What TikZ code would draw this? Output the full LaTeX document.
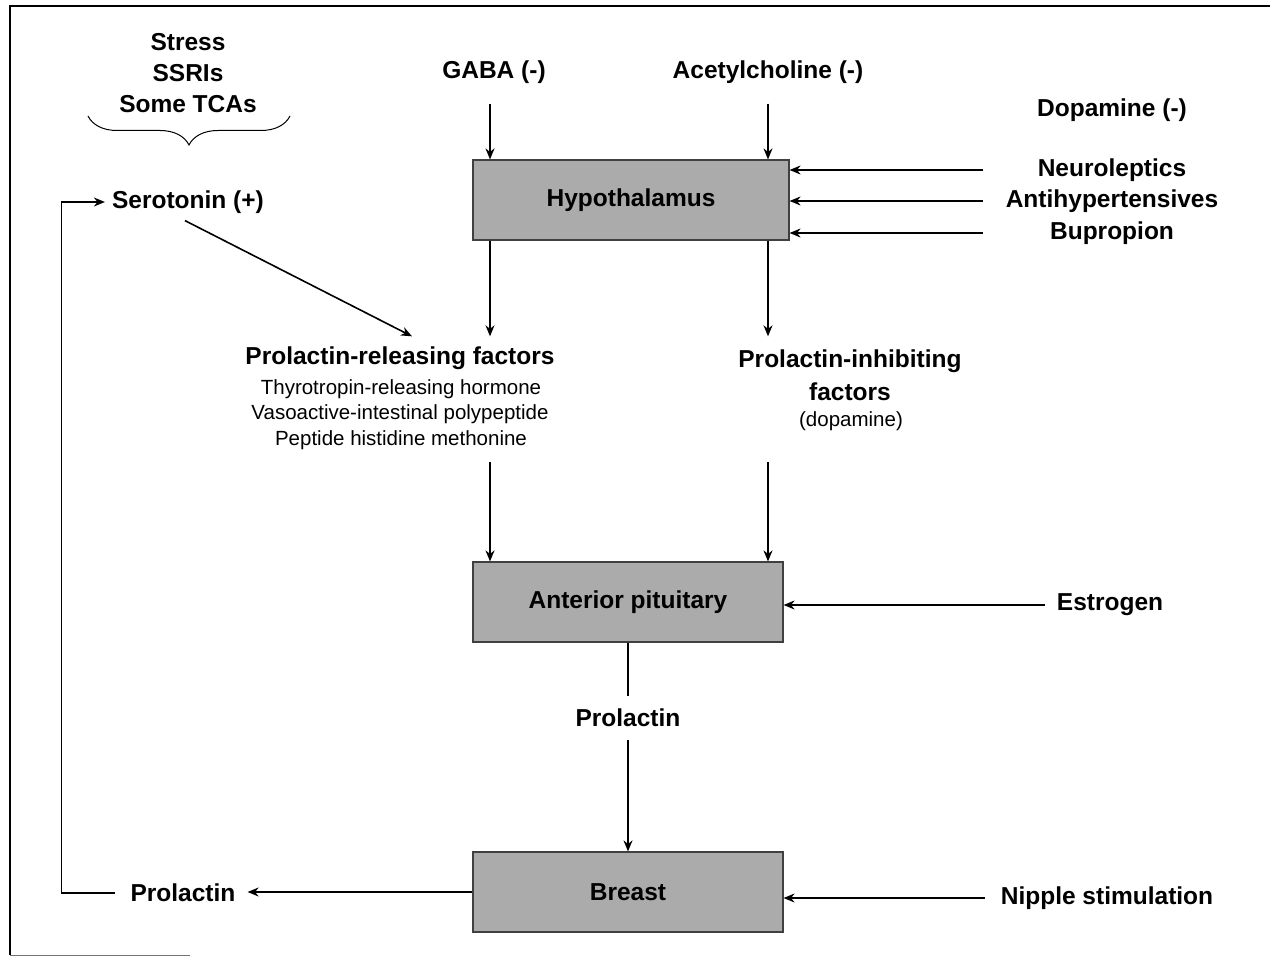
\documentclass[tikz,border=0pt]{standalone}
\usepackage{fontspec}
\setmainfont{Liberation Sans}
\usetikzlibrary{arrows.meta,decorations.pathreplacing,calc}
\begin{document}
\begin{tikzpicture}[x=1pt,y=-1pt,
  lbl/.style={font=\bfseries\fontsize{24.5}{29}\selectfont, inner sep=0pt, align=center},
  sub/.style={font=\fontsize{20.5}{25}\selectfont, inner sep=0pt},
  organ/.style={draw=black!75, line width=1.2pt, fill=black!33, minimum width=316pt,
    minimum height=80pt, inner sep=0pt, font=\bfseries\fontsize{24.5}{29}\selectfont},
  arr/.style={line width=1.6pt, -{Stealth[length=11pt,width=9pt]}},
  ln/.style={line width=1.6pt}]
\useasboundingbox (0,0) rectangle (1270,957);
% frame
\draw[line width=1.6pt] (10,955) -- (10,6) -- (1270,6);
\draw[line width=1pt, black!55] (10,955) -- (190,955);

% boxes
\node[organ] (hypo) at (631,200) {Hypothalamus};
\node[organ, minimum width=310pt] (ap) at (628,602) {Anterior pituitary};
\node[organ, minimum width=310pt] (breast) at (628,892) {Breast};

% labels
\node[lbl] (stress) at (188,42) {Stress};
\node[lbl] (ssri) at (188,73) {SSRIs};
\node[lbl] (tca) at (188,104) {Some TCAs};
\node[lbl] (gaba) at (494,72) {GABA (-)};
\node[lbl] (ach) at (768,72) {Acetylcholine (-)};
\node[lbl] (dopa) at (1112,110) {Dopamine (-)};
\node[lbl] (neuro) at (1112,170) {Neuroleptics};
\node[lbl] (antihyp) at (1112,201) {Antihypertensives};
\node[lbl] (bupro) at (1112,233) {Bupropion};
\node[lbl] (sero) at (188,202) {Serotonin (+)};
\node[lbl] (prf) at (400,358) {Prolactin-releasing factors};
\node[sub] (trh) at (401,389) {Thyrotropin-releasing hormone};
\node[sub] (vip) at (400,414) {Vasoactive-intestinal polypeptide};
\node[sub] (phm) at (401,440) {Peptide histidine methonine};
\node[lbl] (pif) at (850,361) {Prolactin-inhibiting};
\node[lbl] (pif2) at (850,392) {factors};
\node[sub] (dsub) at (851,421) {(dopamine)};
\node[lbl] (estrogen) at (1110,605) {Estrogen};
\node[lbl] (prl) at (628,718) {Prolactin};
\node[lbl] (nipple) at (1107,898) {Nipple stimulation};
\node[lbl] (prl2) at (183,893) {Prolactin};

% brace
\draw[line width=1pt, decorate, decoration={brace, amplitude=29pt, mirror}] (88,116) -- (290,116);

% helper coordinates
\coordinate (rcol) at (983,0);
\path (gaba.south) ++(-4,20) coordinate (gabaS);
\path (ach.south) ++(0,20) coordinate (achS);

% connectors
\draw[arr] (gabaS) -- (gabaS |- hypo.north);
\draw[arr] (achS) -- (achS |- hypo.north);
\draw[arr] (neuro.west -| rcol) -- (neuro.west -| hypo.east);
\draw[arr] (antihyp.west -| rcol) -- (antihyp.west -| hypo.east);
\draw[arr] (bupro.west -| rcol) -- (bupro.west -| hypo.east);

\draw[arr, shorten >=10pt] (gabaS |- hypo.south) -- (gabaS |- prf.north);
\draw[arr, shorten >=13pt] (achS |- hypo.south) -- (achS |- pif.north);
\draw[arr] ([shift={(-3,7)}]sero.south) -- ([shift={(12,-10)}]prf.north);

\draw[arr, shorten <=12pt] (gabaS |- phm.south) -- (gabaS |- ap.north);
\draw[arr, shorten <=12pt] (achS |- phm.south) -- (achS |- ap.north);
\draw[arr, shorten <=12pt] (estrogen.west) -- (estrogen.west -| ap.east);

\draw[ln, shorten >=13pt] (ap.south) -- (prl.north);
\draw[arr, shorten <=13pt] (prl.south) -- (breast.north);

\draw[arr, shorten <=16pt] (nipple.west) -- (nipple.west -| breast.east);
\draw[arr, shorten >=12pt] (breast.west) -- (breast.west -| prl2.east);
\draw[arr, shorten >=7pt] ([xshift=-15pt]prl2.west) -- ++(-54,0) |- (sero.west);
\end{tikzpicture}
\end{document}
